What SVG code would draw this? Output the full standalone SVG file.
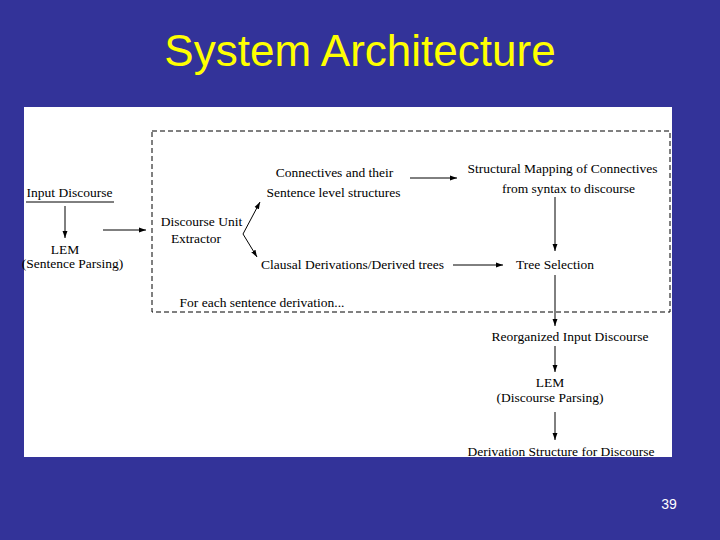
<svg xmlns="http://www.w3.org/2000/svg" width="720" height="540" viewBox="0 0 720 540">
<style>
.t{font-family:"Liberation Serif","Times New Roman",serif;font-size:13.5px;fill:#000;text-anchor:middle}
.c{stroke:#000;stroke-width:1;fill:none}
</style>
<defs>
<marker id="ah" viewBox="0 0 10 10" refX="10" refY="5" markerWidth="7" markerHeight="7" markerUnits="userSpaceOnUse" orient="auto">
<path d="M0,1.5 L10,5 L0,8.5 Z" fill="#000"/>
</marker>
<clipPath id="panel"><rect x="24" y="107" width="648" height="350"/></clipPath>
</defs>
<rect x="0" y="0" width="720" height="540" fill="#333399"/>
<text x="360" y="66" font-family="'Liberation Sans',Arial,sans-serif" font-size="44" fill="#FFFF00" text-anchor="middle">System Architecture</text>
<text x="669" y="509" font-family="'Liberation Sans',Arial,sans-serif" font-size="14" fill="#FFFFFF" text-anchor="middle">39</text>
<rect x="24" y="107" width="648" height="350" fill="#FFFFFF"/>
<rect id="sentence-loop" x="152" y="131" width="518" height="181" fill="none" stroke="#000" stroke-width="1" stroke-dasharray="5,3"/>
<g id="connectors">
<line class="c" x1="26" y1="202" x2="114" y2="202"/>
<line class="c" x1="65" y1="206" x2="65" y2="238" marker-end="url(#ah)"/>
<line class="c" x1="103" y1="230" x2="146" y2="230" marker-end="url(#ah)"/>
<line class="c" x1="243" y1="234" x2="260" y2="202" marker-end="url(#ah)"/>
<line class="c" x1="243" y1="234" x2="257" y2="257" marker-end="url(#ah)"/>
<line class="c" x1="410" y1="178" x2="457" y2="178" marker-end="url(#ah)"/>
<line class="c" x1="555" y1="197" x2="555" y2="251" marker-end="url(#ah)"/>
<line class="c" x1="453" y1="265" x2="503" y2="265" marker-end="url(#ah)"/>
<line class="c" x1="555" y1="275" x2="555" y2="326" marker-end="url(#ah)"/>
<line class="c" x1="555" y1="346" x2="555" y2="372" marker-end="url(#ah)"/>
<line class="c" x1="555" y1="412" x2="555" y2="440" marker-end="url(#ah)"/>
</g>
<g id="input-discourse"><text class="t" x="69.5" y="197">Input Discourse</text></g>
<g id="lem-sentence"><text class="t" x="65" y="254">LEM</text><text class="t" x="72.5" y="268">(Sentence Parsing)</text></g>
<g id="du-extractor"><text class="t" x="201.5" y="226">Discourse Unit</text><text class="t" x="196" y="243">Extractor</text></g>
<g id="connectives"><text class="t" x="334.5" y="177">Connectives and their</text><text class="t" x="333.5" y="197">Sentence level structures</text></g>
<g id="clausal"><text class="t" x="352.5" y="269">Clausal Derivations/Derived trees</text></g>
<g id="for-each"><text class="t" x="262" y="307">For each sentence derivation...</text></g>
<g id="structural-mapping"><text class="t" x="562.5" y="173">Structural Mapping of Connectives</text><text class="t" x="568.5" y="193">from syntax to discourse</text></g>
<g id="tree-selection"><text class="t" x="555" y="269">Tree Selection</text></g>
<g id="reorganized"><text class="t" x="570" y="341">Reorganized Input Discourse</text></g>
<g id="lem-discourse"><text class="t" x="550" y="387">LEM</text><text class="t" x="550" y="402">(Discourse Parsing)</text></g>
<g id="derivation-structure" clip-path="url(#panel)"><text class="t" x="561" y="456">Derivation Structure for Discourse</text></g>
</svg>
